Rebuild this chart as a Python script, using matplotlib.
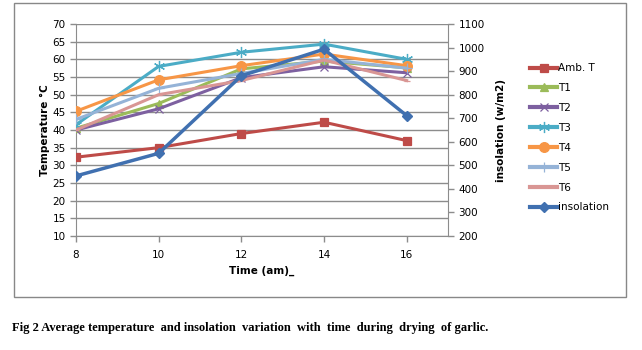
import matplotlib
matplotlib.use("Agg")
import matplotlib.pyplot as plt
from matplotlib.patches import Rectangle

time = [8, 10, 12, 14, 16]
amb = [32.3, 35.0, 39.0, 42.2, 37.0]
t1 = [40.5, 47.5, 57.3, 59.5, 57.6]
t2 = [40.0, 46.0, 54.8, 57.9, 56.2]
t3 = [41.5, 58.0, 62.0, 64.3, 60.0]
t4 = [45.3, 54.2, 58.2, 61.5, 58.2]
t5 = [43.0, 51.8, 56.0, 60.0, 57.5]
t6 = [40.0, 50.0, 54.0, 59.8, 54.0]
insolation = [455, 551, 880, 993, 711]

series = [
    ("Amb. T", amb, "#BE4B48", "s", 6),
    ("T1", t1, "#9BBB59", "^", 6),
    ("T2", t2, "#7D60A0", "x", 6),
    ("T3", t3, "#4BACC6", (6, 2, 0), 8),
    ("T4", t4, "#F79646", "o", 7),
    ("T5", t5, "#95B3D7", "+", 7),
    ("T6", t6, "#D99694", "_", 5),
]

fig = plt.figure(figsize=(6.42, 3.5), dpi=100)
fig.patches.append(Rectangle((14/642, 1-297/350), (626-14)/642, (297-3)/350,
                             transform=fig.transFigure, fill=False,
                             edgecolor="#888888", lw=1.0))

ax = fig.add_axes([76/642, 1-236/350, (448-76)/642, (236-24)/350])
ax2 = ax.twinx()

handles = []
for name, vals, col, mk, ms in series:
    h, = ax.plot(time, vals, color=col, lw=2.2, marker=mk, markersize=ms,
                 markeredgecolor=col, markerfacecolor=col, markeredgewidth=0.9,
                 label=name, zorder=3)
    handles.append(h)
hi, = ax2.plot(time, insolation, color="#4070B0", lw=2.5, marker="D", markersize=5.5,
               markeredgecolor="#4070B0", label="insolation", zorder=4)
handles.append(hi)

ax.set_xlim(8, 17)
ax.set_ylim(10, 70)
ax2.set_ylim(200, 1100)
ax.set_xticks(time)
ax.set_yticks(range(10, 71, 5))
ax2.set_yticks(range(200, 1101, 100))
ax.grid(axis="y", color="#8C8C8C", lw=1.0)
ax.set_axisbelow(True)

for a in (ax, ax2):
    a.spines["top"].set_visible(False)
    a.tick_params(labelsize=7.5, colors="#000000", length=4, color="#8C8C8C", width=1)
ax.spines["right"].set_visible(False)
ax2.spines["left"].set_visible(False)
ax2.spines["bottom"].set_visible(False)
ax.spines["left"].set_color("#8C8C8C")
ax.spines["bottom"].set_color("#8C8C8C")
ax2.spines["right"].set_color("#8C8C8C")
ax.tick_params(axis="x", pad=6)

ax.set_xlabel("Time (am)_", fontsize=7.5, fontweight="bold", labelpad=4)
ax.set_ylabel("Temperature °C", fontsize=7.5, fontweight="bold", labelpad=2)
ax2.set_ylabel("insolation (w/m2)", fontsize=7.5, fontweight="bold", labelpad=8)

leg = fig.legend(handles=handles, labels=[h.get_label() for h in handles],
                 loc="upper left", bbox_to_anchor=(525/642, 1-58/350),
                 frameon=False, fontsize=7.5, handlelength=2.6, handletextpad=0.1,
                 labelspacing=0.95, borderpad=0)
for lh in leg.get_lines():
    lh.set_linewidth(3)

fig.text(12/642, 1-328/350,
         "Fig 2 Average temperature  and insolation  variation  with  time  during  drying  of garlic.",
         family="Liberation Serif", fontweight="bold", fontsize=9, va="center")

fig.savefig("out.png", dpi=100)
